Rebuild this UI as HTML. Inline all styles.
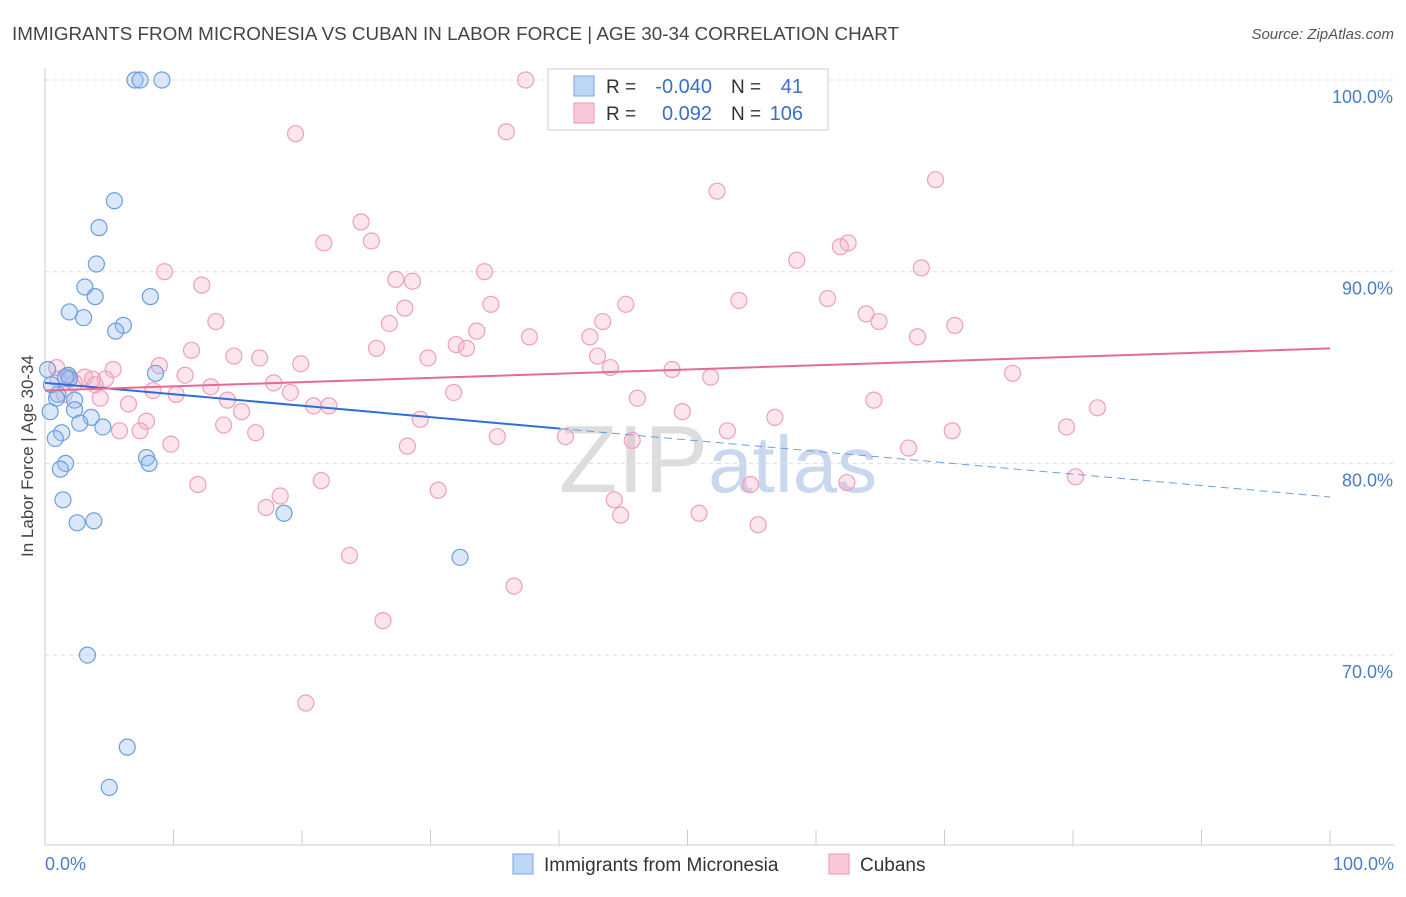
<!DOCTYPE html>
<html><head><meta charset="utf-8"><style>
body{margin:0;background:#fff;font-family:"Liberation Sans",sans-serif;}
svg text{font-family:"Liberation Sans",sans-serif;}
</style></head><body>
<svg id="chart" width="1406" height="892" viewBox="0 0 1406 892" xmlns="http://www.w3.org/2000/svg">
<text x="12" y="40" font-size="18" fill="#444" textLength="887" lengthAdjust="spacingAndGlyphs">IMMIGRANTS FROM MICRONESIA VS CUBAN IN LABOR FORCE | AGE 30-34 CORRELATION CHART</text>
<text x="1394" y="39" font-size="15" fill="#555" text-anchor="end" font-style="italic">Source: ZipAtlas.com</text>
<text x="718" y="492" font-size="96" fill="#ddd" text-anchor="middle" font-family="Liberation Serif">ZIP<tspan fill="#c9d8ee" font-family="Liberation Sans" font-size="80">atlas</tspan></text>
<g id="grid"></g>
<g id="axes"></g>
<g id="marks"></g>
<g id="trends"></g>
<text transform="translate(33,456) rotate(-90)" font-size="17" fill="#444" text-anchor="middle">In Labor Force | Age 30-34</text>
<g>
<rect x="548" y="69" width="280" height="61" fill="#fff" stroke="#ccc"/>
<rect x="574" y="76" width="20" height="20" fill="#bcd6f5" stroke="#7aa7e0"/>
<rect x="574" y="103" width="20" height="20" fill="#f9c9d8" stroke="#eb94b2"/>
<text x="606" y="93" font-size="19" fill="#333">R =</text>
<text x="712" y="93" font-size="20" fill="#3a6fc9" text-anchor="end">-0.040</text>
<text x="731" y="93" font-size="19" fill="#333">N =</text>
<text x="803" y="93" font-size="20" fill="#3a6fc9" text-anchor="end">41</text>
<text x="606" y="120" font-size="19" fill="#333">R =</text>
<text x="712" y="120" font-size="20" fill="#3a6fc9" text-anchor="end">0.092</text>
<text x="731" y="120" font-size="19" fill="#333">N =</text>
<text x="803" y="120" font-size="20" fill="#3a6fc9" text-anchor="end">106</text>
</g>
<g>
<rect x="513" y="854" width="20" height="20" fill="#bcd6f5" stroke="#7aa7e0"/>
<text x="544" y="871" font-size="19" fill="#333">Immigrants from Micronesia</text>
<rect x="829" y="854" width="20" height="20" fill="#f9c9d8" stroke="#eb94b2"/>
<text x="860" y="871" font-size="19" fill="#333">Cubans</text>
</g>
</svg>
<script>
const yTicks=[100,90,80,70];
const yTickLabels=["100.0%","90.0%","80.0%","70.0%"];
const xTickLabels=["0.0%","100.0%"];
const blueX=[7.0,7.4,9.1,5.4,4.2,4.0,3.1,3.9,8.2,1.9,3.0,6.1,5.5,0.2,1.8,8.6,1.9,1.0,2.3,0.4,2.3,3.6,2.7,4.5,1.3,0.8,1.6,1.2,7.9,8.1,1.4,2.5,3.8,18.6,32.3,3.3,6.4,5.0,0.5,0.9,1.6];
const blueY=[100,100,100,93.7,92.3,90.4,89.2,88.7,88.7,87.9,87.6,87.2,86.9,84.9,84.6,84.7,84.4,83.6,83.3,82.7,82.8,82.4,82.1,81.9,81.6,81.3,80.0,79.7,80.3,80.0,78.1,76.9,77.0,77.4,75.1,70.0,65.2,63.1,84.1,83.4,84.5];
const pinkX=[37.4,19.5,35.9,52.3,69.3,24.6,21.7,25.4,62.5,61.9,58.5,9.3,34.2,68.2,12.2,27.3,28.6,34.7,28.0,45.2,54.0,60.9,63.9,64.9,13.3,26.8,43.4,33.6,37.7,42.4,67.9,70.8,32.0,32.8,25.8,11.4,29.8,14.7,16.7,43.0,19.9,8.9,44.0,48.8,51.8,75.3,0.9,5.3,3.1,4.7,10.9,17.8,12.9,8.4,10.2,19.1,31.8,46.1,14.2,4.3,6.5,15.3,20.9,22.1,49.6,56.8,64.5,81.9,29.2,7.9,13.9,16.4,5.8,7.4,35.2,40.5,45.7,53.1,70.6,79.5,9.8,28.2,67.2,11.9,21.5,30.6,18.3,17.2,44.3,54.9,62.4,80.2,44.8,50.9,55.5,23.7,36.5,26.3,20.3,1.0,2.3,3.7,1.5,3.9,1.9];
const pinkY=[100.0,97.2,97.3,94.2,94.8,92.6,91.5,91.6,91.5,91.3,90.6,90.0,90.0,90.2,89.3,89.6,89.5,88.3,88.1,88.3,88.5,88.6,87.8,87.4,87.4,87.3,87.4,86.9,86.6,86.6,86.6,87.2,86.2,86.0,86.0,85.9,85.5,85.6,85.5,85.6,85.2,85.1,85.0,84.9,84.5,84.7,85.0,84.9,84.5,84.4,84.6,84.2,84.0,83.8,83.6,83.7,83.7,83.4,83.3,83.4,83.1,82.7,83.0,83.0,82.7,82.4,83.3,82.9,82.3,82.2,82.0,81.6,81.7,81.7,81.4,81.4,81.2,81.7,81.7,81.9,81.0,80.9,80.8,78.9,79.1,78.6,78.3,77.7,78.1,78.9,79.0,79.3,77.3,77.4,76.8,75.2,73.6,71.8,67.5,84.4,84.2,84.4,83.6,84.1,84.5];
const blueTrend=[84.2,78.25];
const pinkTrend=[83.8,86.0];
const NS="http://www.w3.org/2000/svg";
const X=v=>45+v*12.85, Y=v=>80+(100-v)*19.17;
function mk(tag,attrs,parent){const e=document.createElementNS(NS,tag);for(const k in attrs)e.setAttribute(k,attrs[k]);document.getElementById(parent).appendChild(e);return e;}
yTicks.forEach((t,i)=>{
 const g=mk('line',{x1:45,x2:1394,y1:Y(t),y2:Y(t),stroke:'#ddd','stroke-dasharray':'4,4'},'grid');
 
 
 const l=mk('text',{x:1393,y:Y(t)+23,'font-size':18,fill:'#4a7cc7','text-anchor':'end'},'axes');
 l.textContent=yTickLabels[i];
 
 
});
const ax=mk('line',{x1:45,x2:45,y1:68,y2:845,stroke:'#ccc'},'axes');


const bx=mk('line',{x1:45,x2:1394,y1:845,y2:845,stroke:'#ccc'},'axes');


for(let i=0;i<=10;i++){const t=mk('line',{x1:X(i*10),x2:X(i*10),y1:830,y2:845,stroke:'#ccc'},'axes');
 
 }
[[0,'start',45],[100,'end',1394]].forEach((d,i)=>{const t=mk('text',{x:d[2],y:870,'font-size':18,fill:'#4a7cc7','text-anchor':d[1]},'axes');t.textContent=xTickLabels[i];
 
 });
pinkX.forEach((x,i)=>{const c=mk('circle',{cx:X(x),cy:Y(pinkY[i]),r:8,fill:'rgba(246,170,196,0.3)',stroke:'#eea0bb','stroke-width':1.2},'marks');
 
 });
blueX.forEach((x,i)=>{const c=mk('circle',{cx:X(x),cy:Y(blueY[i]),r:8,fill:'rgba(150,190,240,0.35)',stroke:'#6d9fdc','stroke-width':1.2},'marks');
 
 });
const bt=v=>blueTrend[0]+(blueTrend[1]-blueTrend[0])*v/100;
const l1=mk('line',{x1:X(0),y1:Y(bt(0)),x2:X(40.1),y2:Y(bt(40.1)),stroke:'#2e6fd6','stroke-width':2},'trends');


const l2=mk('line',{x1:X(40.1),y1:Y(bt(40.1)),x2:X(100),y2:Y(bt(100)),stroke:'#6d9fdc','stroke-width':1,'stroke-dasharray':'8,5'},'trends');


const l3=mk('line',{x1:X(0),y1:Y(pinkTrend[0]),x2:X(100),y2:Y(pinkTrend[1]),stroke:'#e46b97','stroke-width':2},'trends');


</script>
</body></html>
